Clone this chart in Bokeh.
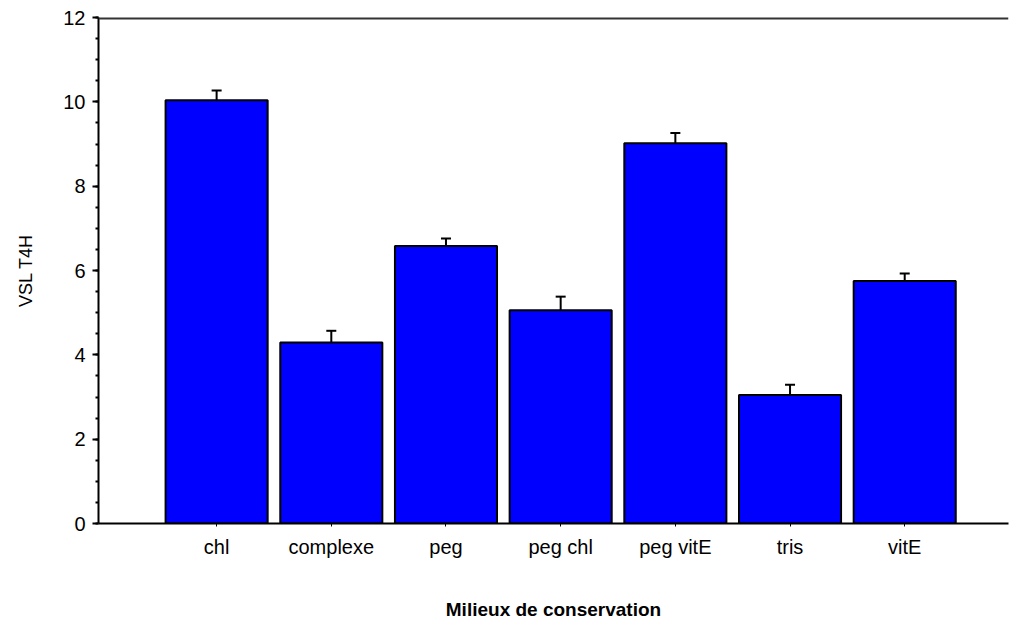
from bokeh.plotting import figure
from bokeh.models import (ColumnDataSource, Range1d, FixedTicker, Whisker, TeeHead,
                          Span)
from bokeh.embed import file_html
from bokeh.resources import INLINE

# Mean VSL after 4 h for each preservation medium, with standard error
categories = ["chl", "complexe", "peg", "peg chl", "peg vitE", "tris", "vitE"]
means = [10.04, 4.29, 6.58, 5.06, 9.02, 3.05, 5.75]
errors = [0.23, 0.28, 0.18, 0.32, 0.24, 0.24, 0.18]
y_ticks = [0, 2, 4, 6, 8, 10, 12]

positions = list(range(1, len(categories) + 1))
source = ColumnDataSource(dict(
    x=positions,
    mean=means,
    upper=[m + e for m, e in zip(means, errors)],
))

FONT = "Liberation Sans"

p = figure(width=1009, height=623, output_backend="svg", toolbar_location=None,
           x_range=Range1d(-0.03, 7.905), y_range=Range1d(0, 12),
           min_border_left=98, min_border_top=17, min_border_right=1,
           min_border_bottom=100)
p.outline_line_color = None
p.xgrid.visible = False
p.ygrid.visible = False
p.background_fill_color = "white"
p.border_fill_color = "white"

p.vbar(x="x", top="mean", bottom=0, width=0.89, source=source,
       fill_color="#0000FF", line_color="black", line_width=2)

whisker = Whisker(base="x", lower="mean", upper="upper", source=source,
                  line_color="black", line_width=2,
                  upper_head=TeeHead(size=10, line_color="black", line_width=2),
                  lower_head=None)
p.add_layout(whisker)

# top border line of the plotting area (half of it is clipped at the frame edge)
p.add_layout(Span(location=12, dimension="width", line_color="#333333", line_width=4))

# x axis
xa = p.xaxis[0]
xa.ticker = FixedTicker(ticks=positions)
xa.major_label_overrides = {i: c for i, c in zip(positions, categories)}
xa.axis_label = "Milieux de conservation"
xa.axis_label_text_font = FONT
xa.axis_label_text_font_style = "bold"
xa.axis_label_text_font_size = "19px"
xa.axis_label_text_color = "black"
xa.axis_label_standoff = 38
xa.major_label_text_font = FONT
xa.major_label_text_font_size = "20px"
xa.major_label_text_color = "black"
xa.major_label_standoff = 9
xa.axis_line_color = "black"
xa.axis_line_width = 2
xa.major_tick_out = 3
xa.major_tick_in = 0
xa.minor_tick_out = 0
xa.minor_tick_in = 0

# y axis
ya = p.yaxis[0]
ya.ticker = FixedTicker(ticks=y_ticks,
                        minor_ticks=[v / 2 for v in range(0, 25)])
ya.axis_label = "VSL T4H"
ya.axis_label_text_font = FONT
ya.axis_label_text_font_style = "normal"
ya.axis_label_text_font_size = "18px"
ya.axis_label_text_color = "black"
ya.axis_label_standoff = 24
ya.major_label_text_font = FONT
ya.major_label_text_font_size = "20px"
ya.major_label_text_color = "black"
ya.major_label_standoff = 7
ya.axis_line_color = "black"
ya.axis_line_width = 2
ya.major_tick_out = 6
ya.major_tick_in = 0
ya.major_tick_line_width = 2
ya.minor_tick_out = 3
ya.minor_tick_in = 0
ya.minor_tick_line_width = 2

open("out.html", "w").write(file_html(p, INLINE))
